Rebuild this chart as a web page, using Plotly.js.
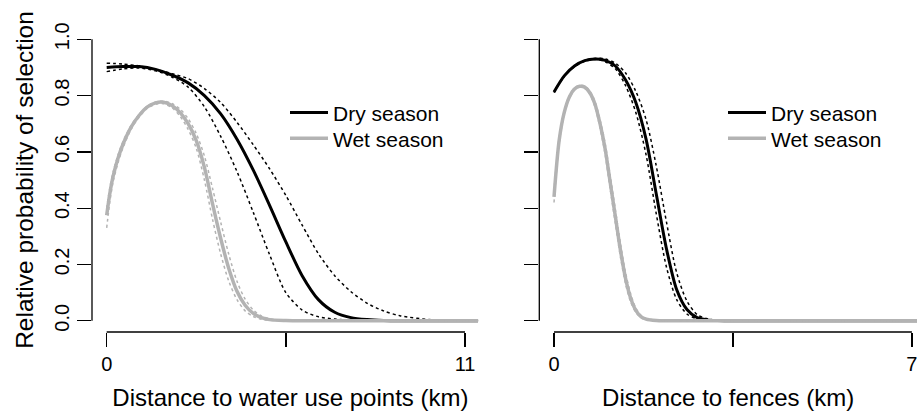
<!DOCTYPE html>
<html>
<head>
<meta charset="utf-8">
<script src="https://cdn.plot.ly/plotly-3.0.1.min.js"></script>
<style>html,body{margin:0;padding:0;background:#fff;}#chart{width:917px;height:411px;}</style>
</head>
<body>
<div id="chart"></div>
<script>
// ---------- Left panel: distance to water use points (km) ----------
const waterDryX   = [0,0.5,1,1.5,2,2.5,3,3.5,4,4.5,5,5.5,6,6.5,7,7.5,8,8.5,9,10,11,11.4];
const waterDryMean= [0.900,0.903,0.903,0.893,0.873,0.845,0.800,0.735,0.645,0.535,0.410,0.280,0.160,0.075,0.030,0.011,0.004,0.001,0,0,0,0];
const waterDryUp  = [0.915,0.912,0.905,0.893,0.878,0.860,0.825,0.775,0.705,0.625,0.540,0.445,0.340,0.238,0.160,0.103,0.062,0.035,0.018,0.003,0,0];
const waterDryLo  = [0.885,0.895,0.898,0.888,0.866,0.830,0.760,0.655,0.530,0.385,0.235,0.100,0.038,0.014,0.006,0.002,0,0,0,0,0,0];

const waterWetX   = [0,0.1,0.2,0.35,0.5,0.75,1,1.25,1.5,1.75,2,2.25,2.5,2.75,3,3.25,3.5,3.75,4,4.25,4.5,4.75,5,5.5,6,8,10,11.4];
const waterWetMean= [0.375,0.455,0.515,0.578,0.627,0.688,0.730,0.760,0.774,0.776,0.765,0.740,0.700,0.640,0.545,0.415,0.292,0.185,0.105,0.055,0.026,0.011,0.004,0.001,0,0,0,0];
const waterWetUp  = [0.400,0.475,0.530,0.590,0.637,0.694,0.734,0.763,0.777,0.780,0.772,0.752,0.718,0.665,0.585,0.470,0.350,0.235,0.140,0.077,0.038,0.017,0.007,0.001,0,0,0,0];
const waterWetLo  = [0.330,0.425,0.495,0.562,0.614,0.680,0.724,0.755,0.769,0.771,0.757,0.727,0.680,0.613,0.500,0.360,0.237,0.140,0.075,0.035,0.015,0.005,0.002,0,0,0,0,0];

// ---------- Right panel: distance to fences (km) ----------
const fenceDryX   = [0,0.2,0.4,0.6,0.8,1.0,1.2,1.4,1.6,1.8,2.0,2.2,2.4,2.6,2.8,3.0,3.2,3.5,5,7.2];
const fenceDryMean= [0.813,0.870,0.905,0.924,0.930,0.925,0.905,0.855,0.775,0.645,0.450,0.255,0.110,0.040,0.011,0.003,0.001,0,0,0];
const fenceDryUp  = [0.813,0.870,0.905,0.925,0.932,0.930,0.915,0.880,0.815,0.715,0.550,0.350,0.170,0.070,0.022,0.007,0.002,0,0,0];
const fenceDryLo  = [0.810,0.868,0.903,0.922,0.928,0.920,0.895,0.835,0.740,0.590,0.380,0.190,0.075,0.024,0.007,0.002,0,0,0,0];

const fenceWetX   = [0,0.1,0.2,0.3,0.4,0.5,0.6,0.7,0.8,0.9,1.0,1.1,1.2,1.3,1.4,1.5,1.6,1.7,1.8,2.0,2.2,4,7.2];
const fenceWetMean= [0.440,0.640,0.740,0.795,0.823,0.833,0.830,0.810,0.770,0.700,0.610,0.490,0.370,0.250,0.150,0.080,0.037,0.015,0.006,0.001,0,0,0];
const fenceWetUp  = [0.460,0.650,0.745,0.800,0.827,0.836,0.834,0.816,0.780,0.715,0.630,0.515,0.395,0.275,0.170,0.095,0.045,0.019,0.008,0.002,0,0,0];
const fenceWetLo  = [0.420,0.630,0.735,0.790,0.820,0.830,0.826,0.804,0.760,0.685,0.590,0.465,0.345,0.225,0.130,0.066,0.030,0.011,0.004,0.001,0,0,0];

const yTicks = [0,0.2,0.4,0.6,0.8,1.0];
const yTickText = ['0.0','0.2','0.4','0.6','0.8','1.0'];
const waterTicks = [0,5.5,11];
const waterTickText = ['0','','11'];
const fenceTicks = [0,3.5,7];
const fenceTickText = ['0','','7'];
const seriesNames = ['Dry season','Wet season'];

const FONT = 'Liberation Sans, Arial, Helvetica, sans-serif';
const BLACK = '#000000';
const GREY = '#b3b3b3';

function solid(x, y, color, w, xa, ya, name, legend) {
  return {x:x, y:y, xaxis:xa, yaxis:ya, type:'scatter', mode:'lines', name:name,
    line:{color:color, width:w, shape:'spline', smoothing:0.8}, showlegend:true, legend:legend, hoverinfo:'skip'};
}
function dotted(x, y, color, xa, ya) {
  return {x:x, y:y, xaxis:xa, yaxis:ya, type:'scatter', mode:'lines',
    line:{color:color, width:1.5, dash:'dot', shape:'spline', smoothing:0.8}, showlegend:false, hoverinfo:'skip'};
}

const data = [
  solid(waterDryX, waterDryMean, BLACK, 3, 'x', 'y', seriesNames[0], 'legend'),
  dotted(waterDryX, waterDryUp, BLACK, 'x', 'y'),
  dotted(waterDryX, waterDryLo, BLACK, 'x', 'y'),
  solid(waterWetX, waterWetMean, GREY, 3.5, 'x', 'y', seriesNames[1], 'legend2'),
  dotted(waterWetX, waterWetUp, GREY, 'x', 'y'),
  dotted(waterWetX, waterWetLo, GREY, 'x', 'y'),
  solid(fenceDryX, fenceDryMean, BLACK, 3, 'x2', 'y2', seriesNames[0], 'legend3'),
  dotted(fenceDryX, fenceDryUp, BLACK, 'x2', 'y2'),
  dotted(fenceDryX, fenceDryLo, BLACK, 'x2', 'y2'),
  solid(fenceWetX, fenceWetMean, GREY, 3.5, 'x2', 'y2', seriesNames[1], 'legend4'),
  dotted(fenceWetX, fenceWetUp, GREY, 'x2', 'y2'),
  dotted(fenceWetX, fenceWetLo, GREY, 'x2', 'y2')
];

const W = 917, H = 411;
const T = 27.7, B = 79, PH = H - T - B;
const axisCommon = {showgrid:false, zeroline:false, showline:false, ticks:'outside', ticklen:14, tickwidth:1.3,
  tickcolor:BLACK, tickfont:{family:FONT, size:20, color:BLACK}, fixedrange:true, ticklabeloverflow:'allow'};

const legendCommon = {bgcolor:'rgba(0,0,0,0)', borderwidth:0, font:{family:FONT, size:21, color:BLACK},
  xanchor:'left', yanchor:'top', tracegroupgap:0, itemwidth:38, itemclick:false};
function legY(topPx) { return 1 - (topPx - T) / PH; }

const layout = {
  width:W, height:H, paper_bgcolor:'#fff', plot_bgcolor:'#fff',
  margin:{l:0, r:0, t:T, b:B, pad:0},
  font:{family:FONT, color:BLACK},
  xaxis: Object.assign({}, axisCommon, {domain:[92/W, 488.8/W], range:[-0.451, 11.73], tickmode:'array',
     tickvals:waterTicks, ticktext:waterTickText, anchor:'y',
     title:{text:'Distance to water use points (km)', font:{family:FONT, size:24, color:BLACK}, standoff:18}}),
  yaxis: Object.assign({}, axisCommon, {domain:[0,1], range:[-0.04,1.04], tickmode:'array', tickvals:yTicks,
     ticktext:yTickText, tickangle:-90, anchor:'x',
     title:{text:'Relative probability of selection', font:{family:FONT, size:24.5, color:BLACK}, standoff:10}}),
  xaxis2: Object.assign({}, axisCommon, {domain:[539.3/W, 1], range:[-0.288, 7.10], tickmode:'array',
     tickvals:fenceTicks, ticktext:fenceTickText, anchor:'y2',
     title:{text:'Distance to fences (km)', font:{family:FONT, size:24, color:BLACK}, standoff:18}}),
  yaxis2: Object.assign({}, axisCommon, {domain:[0,1], range:[-0.04,1.04], tickmode:'array', tickvals:yTicks,
     showticklabels:false, anchor:'x2'}),
  legend:  Object.assign({}, legendCommon, {x:285/W, y:legY(92)}),
  legend2: Object.assign({}, legendCommon, {x:285/W, y:legY(118)}),
  legend3: Object.assign({}, legendCommon, {x:723/W, y:legY(92)}),
  legend4: Object.assign({}, legendCommon, {x:723/W, y:legY(118)}),
  shapes: [
    {type:'line', xref:'x domain', yref:'y', x0:0, x1:0, y0:yTicks[0], y1:yTicks[yTicks.length-1], line:{color:BLACK, width:1.3}},
    {type:'line', xref:'x', yref:'y domain', x0:waterTicks[0], x1:waterTicks[waterTicks.length-1], y0:0, y1:0, line:{color:BLACK, width:1.3}},
    {type:'line', xref:'x2 domain', yref:'y2', x0:0, x1:0, y0:yTicks[0], y1:yTicks[yTicks.length-1], line:{color:BLACK, width:1.3}},
    {type:'line', xref:'x2', yref:'y2 domain', x0:fenceTicks[0], x1:fenceTicks[fenceTicks.length-1], y0:0, y1:0, line:{color:BLACK, width:1.3}}
  ]
};

Plotly.newPlot('chart', data, layout, {displayModeBar:false, staticPlot:true});
</script>
</body>
</html>
